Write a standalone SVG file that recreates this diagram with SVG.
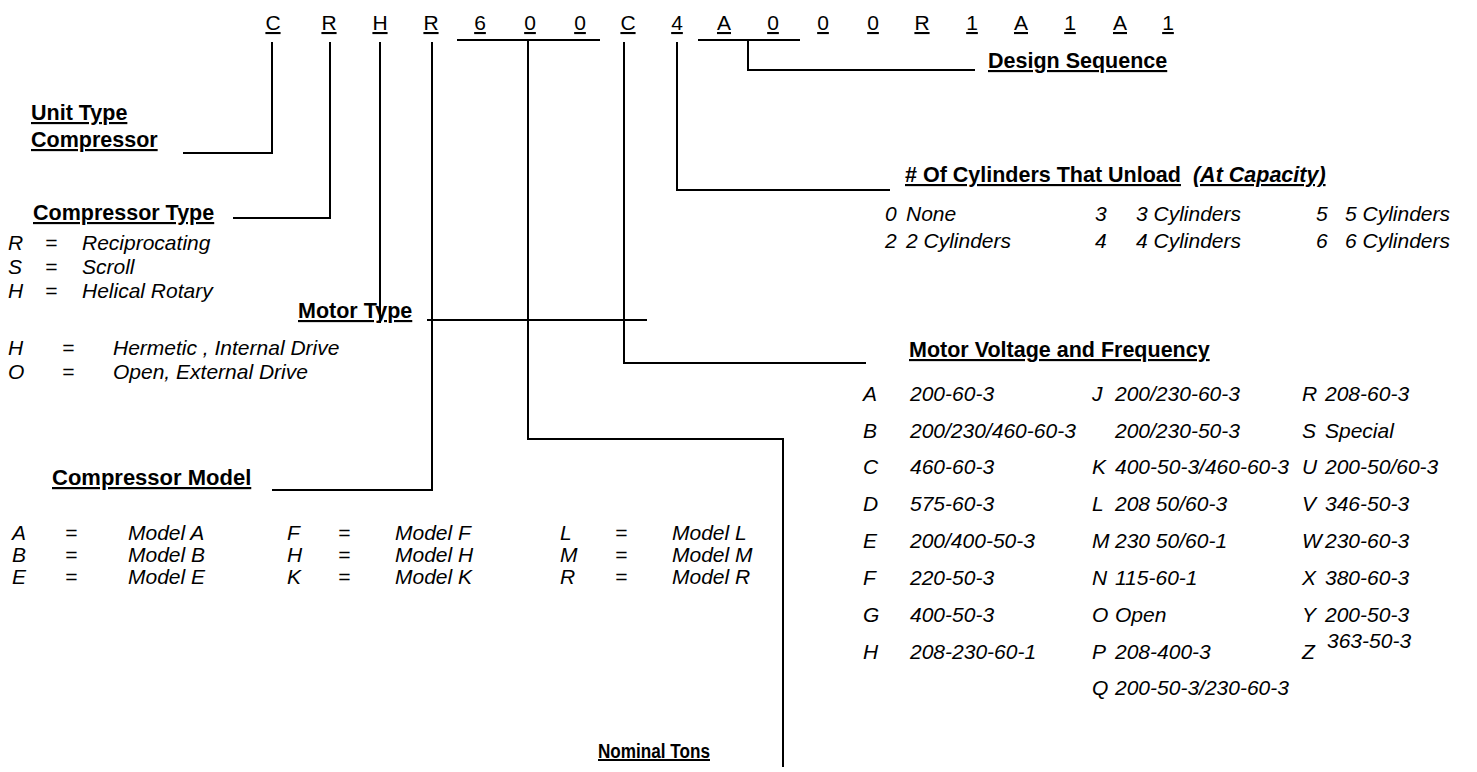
<svg xmlns="http://www.w3.org/2000/svg" width="1477" height="772" viewBox="0 0 1477 772">
<style>
text{font-family:"Liberation Sans",Arial,sans-serif;font-size:21px;fill:#000}
.h{font-weight:bold;text-decoration:underline;font-size:21.5px}
.i{font-style:italic}
.u{text-decoration:underline}
.ln{stroke:#000;stroke-width:2;fill:none}
</style>
<rect width="1477" height="772" fill="#fff"/>
<g id="model-code" text-anchor="middle">
<text class="u" x="273" y="30">C</text>
<text class="u" x="329" y="30">R</text>
<text class="u" x="380" y="30">H</text>
<text class="u" x="431" y="30">R</text>
<text class="u" x="480" y="30">6</text>
<text class="u" x="530" y="30">0</text>
<text class="u" x="580" y="30">0</text>
<text class="u" x="628" y="30">C</text>
<text class="u" x="677" y="30">4</text>
<text class="u" x="724" y="30">A</text>
<text class="u" x="773" y="30">0</text>
<text class="u" x="823" y="30">0</text>
<text class="u" x="873" y="30">0</text>
<text class="u" x="922" y="30">R</text>
<text class="u" x="972" y="30">1</text>
<text class="u" x="1021" y="30">A</text>
<text class="u" x="1070" y="30">1</text>
<text class="u" x="1120" y="30">A</text>
<text class="u" x="1168" y="30">1</text>
</g>
<g id="connectors" class="ln">
<path d="M272 42V153H183"/>
<path d="M330 42V218H233"/>
<path d="M380 42V323"/>
<path d="M432 42V490H272"/>
<path d="M457 40H600M528 40V439H783V767"/>
<path d="M624 42V363H866"/>
<path d="M677 42V190H890"/>
<path d="M698 40H800M748 40V70H975"/>
<path d="M427 320H647"/>
</g>
<g id="design-sequence"><text class="h" x="988" y="68">Design Sequence</text></g>
<g id="unit-type">
<text class="h" x="31" y="120">Unit Type</text>
<text class="h" x="31" y="147">Compressor</text>
</g>
<g id="compressor-type">
<text class="h" x="33" y="220">Compressor Type</text>
<text class="i" x="8" y="250">R</text><text class="i" x="45" y="250">=</text><text class="i" x="82" y="250">Reciprocating</text>
<text class="i" x="8" y="274">S</text><text class="i" x="45" y="274">=</text><text class="i" x="82" y="274">Scroll</text>
<text class="i" x="8" y="298">H</text><text class="i" x="45" y="298">=</text><text class="i" x="82" y="298">Helical Rotary</text>
</g>
<g id="motor-type">
<text class="h" x="298" y="318">Motor Type</text>
<text class="i" x="8" y="355">H</text><text class="i" x="62" y="355">=</text><text class="i" x="113" y="355">Hermetic , Internal Drive</text>
<text class="i" x="8" y="379">O</text><text class="i" x="62" y="379">=</text><text class="i" x="113" y="379">Open, External Drive</text>
</g>
<g id="compressor-model">
<text class="h" x="52" y="485" style="font-size:22px">Compressor Model</text>
<text class="i" x="12" y="540">A</text><text class="i" x="65" y="540">=</text><text class="i" x="128" y="540">Model A</text>
<text class="i" x="287" y="540">F</text><text class="i" x="338" y="540">=</text><text class="i" x="395" y="540">Model F</text>
<text class="i" x="560" y="540">L</text><text class="i" x="615" y="540">=</text><text class="i" x="672" y="540">Model L</text>
<text class="i" x="12" y="562">B</text><text class="i" x="65" y="562">=</text><text class="i" x="128" y="562">Model B</text>
<text class="i" x="287" y="562">H</text><text class="i" x="338" y="562">=</text><text class="i" x="395" y="562">Model H</text>
<text class="i" x="560" y="562">M</text><text class="i" x="615" y="562">=</text><text class="i" x="672" y="562">Model M</text>
<text class="i" x="12" y="584">E</text><text class="i" x="65" y="584">=</text><text class="i" x="128" y="584">Model E</text>
<text class="i" x="287" y="584">K</text><text class="i" x="338" y="584">=</text><text class="i" x="395" y="584">Model K</text>
<text class="i" x="560" y="584">R</text><text class="i" x="615" y="584">=</text><text class="i" x="672" y="584">Model R</text>
</g>
<g id="nominal-tons"><text class="h" x="598" y="758" style="font-size:20px" textLength="112" lengthAdjust="spacingAndGlyphs">Nominal Tons</text></g>
<g id="cylinders">
<text class="h" x="905" y="182"># Of Cylinders That Unload<tspan dx="12" font-style="italic">(At Capacity)</tspan></text>
<text class="i" x="885" y="221">0</text><text class="i" x="906" y="221">None</text>
<text class="i" x="1095" y="221">3</text><text class="i" x="1136" y="221">3 Cylinders</text>
<text class="i" x="1316" y="221">5</text><text class="i" x="1345" y="221">5 Cylinders</text>
<text class="i" x="885" y="248">2</text><text class="i" x="906" y="248">2 Cylinders</text>
<text class="i" x="1095" y="248">4</text><text class="i" x="1136" y="248">4 Cylinders</text>
<text class="i" x="1316" y="248">6</text><text class="i" x="1345" y="248">6 Cylinders</text>
</g>
<g id="motor-voltage">
<text class="h" x="909" y="357">Motor Voltage and Frequency</text>
<text class="i" x="863" y="401">A</text><text class="i" x="910" y="401">200-60-3</text>
<text class="i" x="863" y="438">B</text><text class="i" x="910" y="438">200/230/460-60-3</text>
<text class="i" x="863" y="474">C</text><text class="i" x="910" y="474">460-60-3</text>
<text class="i" x="863" y="511">D</text><text class="i" x="910" y="511">575-60-3</text>
<text class="i" x="863" y="548">E</text><text class="i" x="910" y="548">200/400-50-3</text>
<text class="i" x="863" y="585">F</text><text class="i" x="910" y="585">220-50-3</text>
<text class="i" x="863" y="622">G</text><text class="i" x="910" y="622">400-50-3</text>
<text class="i" x="863" y="659">H</text><text class="i" x="910" y="659">208-230-60-1</text>
<text class="i" x="1092" y="401">J</text><text class="i" x="1115" y="401">200/230-60-3</text>
<text class="i" x="1115" y="438">200/230-50-3</text>
<text class="i" x="1092" y="474">K</text><text class="i" x="1115" y="474">400-50-3/460-60-3</text>
<text class="i" x="1092" y="511">L</text><text class="i" x="1115" y="511">208 50/60-3</text>
<text class="i" x="1092" y="548">M</text><text class="i" x="1115" y="548">230 50/60-1</text>
<text class="i" x="1092" y="585">N</text><text class="i" x="1115" y="585">115-60-1</text>
<text class="i" x="1092" y="622">O</text><text class="i" x="1115" y="622">Open</text>
<text class="i" x="1092" y="659">P</text><text class="i" x="1115" y="659">208-400-3</text>
<text class="i" x="1092" y="695">Q</text><text class="i" x="1115" y="695">200-50-3/230-60-3</text>
<text class="i" x="1302" y="401">R</text><text class="i" x="1325" y="401">208-60-3</text>
<text class="i" x="1302" y="438">S</text><text class="i" x="1325" y="438">Special</text>
<text class="i" x="1302" y="474">U</text><text class="i" x="1325" y="474">200-50/60-3</text>
<text class="i" x="1302" y="511">V</text><text class="i" x="1325" y="511">346-50-3</text>
<text class="i" x="1302" y="548">W</text><text class="i" x="1325" y="548">230-60-3</text>
<text class="i" x="1302" y="585">X</text><text class="i" x="1325" y="585">380-60-3</text>
<text class="i" x="1302" y="622">Y</text><text class="i" x="1325" y="622">200-50-3</text>
<text class="i" x="1302" y="659">Z</text><text class="i" x="1327" y="648">363-50-3</text>
</g>
</svg>
